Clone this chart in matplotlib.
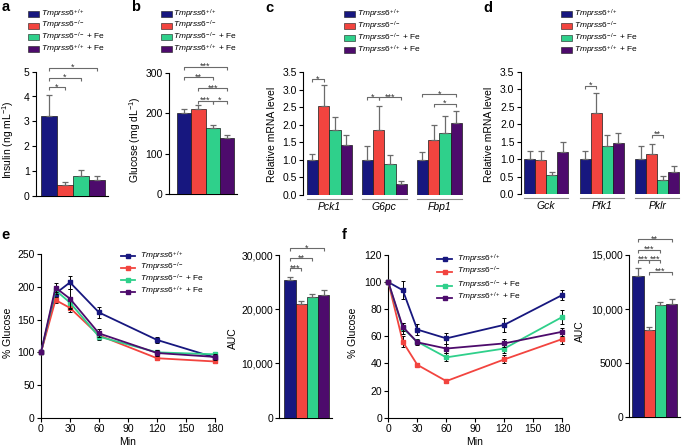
import matplotlib
matplotlib.use('Agg')
import matplotlib.pyplot as plt
from matplotlib.patches import Rectangle
from matplotlib.lines import Line2D
import numpy as np

plt.rcParams['font.family'] = ['Liberation Sans', 'DejaVu Sans']
plt.rcParams['mathtext.fontset'] = 'custom'
plt.rcParams['mathtext.rm'] = 'Liberation Sans'
plt.rcParams['mathtext.it'] = 'Liberation Sans:italic'
plt.rcParams['mathtext.bf'] = 'Liberation Sans:bold'
plt.rcParams['mathtext.sf'] = 'Liberation Sans'

# ---------------- data ----------------
group_labels = [r'$\mathit{Tmprss6}^{+/+}$', r'$\mathit{Tmprss6}^{-/-}$',
                r'$\mathit{Tmprss6}^{-/-}$ + Fe', r'$\mathit{Tmprss6}^{+/+}$ + Fe']
colors = ['#17177f', '#f2443f', '#2fd08b', '#4d0b6c']

insulin = [3.2, 0.42, 0.78, 0.62]
insulin_err = [0.87, 0.15, 0.25, 0.16]
insulin_sig = [(0, 1, 4.37, '*'), (0, 2, 4.76, '*'), (0, 3, 5.16, '*')]

glucose = [201, 211, 163, 138]
glucose_err = [10, 9, 8, 8]
glucose_sig = [(0, 3, 315, '***'), (0, 2, 289, '**'), (1, 3, 262, '***'),
               (1, 2, 231, '***'), (2, 3, 231, '*')]

gluconeo_genes = ['Pck1', 'G6pc', 'Fbp1']
gluconeo = [[1.0, 2.54, 1.86, 1.43], [1.0, 1.84, 0.87, 0.32], [1.0, 1.56, 1.76, 2.05]]
gluconeo_err = [[0.18, 0.58, 0.37, 0.28], [0.40, 0.68, 0.26, 0.08], [0.22, 0.44, 0.48, 0.35]]
gluconeo_sig = [(0, 0, 1, 3.29, '*'), (1, 0, 1, 2.78, '*'), (1, 1, 3, 2.78, '***'),
                (2, 0, 3, 2.87, '*'), (2, 1, 3, 2.59, '*')]

glyco_genes = ['Gck', 'Pfk1', 'Pklr']
glyco = [[1.0, 0.98, 0.54, 1.20], [1.0, 2.31, 1.39, 1.46], [1.0, 1.16, 0.40, 0.64]]
glyco_err = [[0.25, 0.25, 0.11, 0.28], [0.24, 0.57, 0.29, 0.30], [0.38, 0.27, 0.11, 0.16]]
glyco_sig = [(1, 0, 1, 3.10, '*'), (2, 1, 2, 1.70, '**')]

minutes = [0, 15, 30, 60, 120, 180]
gtt = [[100, 190, 207, 161, 119, 92],
       [100, 180, 168, 126, 91, 86],
       [100, 195, 176, 124, 100, 97],
       [100, 199, 182, 129, 99, 93]]
gtt_err = [[0, 5, 10, 8, 4, 6],
           [0, 5, 6, 5, 3, 3],
           [0, 5, 8, 5, 3, 4],
           [0, 7, 15, 6, 4, 5]]
gtt_auc = [25300, 21000, 22200, 22700]
gtt_auc_err = [600, 600, 700, 800]
gtt_auc_sig = [(0, 3, 31235, '*'), (0, 2, 29391, '**'), (0, 1, 27548, '***')]

itt = [[100, 94, 65, 58.5, 68.5, 90.5],
       [100, 56, 39, 27, 43, 58],
       [100, 66, 56, 44.5, 51, 74.3],
       [100, 67, 55.6, 51, 54.8, 63.4]]
itt_err = [[0, 6.5, 4, 4, 5, 4],
           [0, 4, 1, 1.5, 3, 4],
           [0, 4, 2, 3, 3, 5],
           [0, 3, 2, 3, 3, 3]]
itt_auc = [13100, 8050, 10350, 10500]
itt_auc_err = [700, 300, 350, 400]
itt_auc_sig = [(0, 3, 16451, '**'), (0, 2, 15462, '***'), (0, 1, 14538, '***'),
               (1, 2, 14538, '***'), (1, 3, 13457, '***')]

mrna_ticks = [0, 0.5, 1.0, 1.5, 2.0, 2.5, 3.0, 3.5]
mrna_ticklabels = ['0.0', '0.5', '1.0', '1.5', '2.0', '2.5', '3.0', '3.5']
auc_e_ticks = [0, 10000, 20000, 30000]
auc_e_ticklabels = ['0', '10,000', '20,000', '30,000']
auc_f_ticks = [0, 5000, 10000, 15000]
auc_f_ticklabels = ['0', '5000', '10,000', '15,000']

# ---------------- figure ----------------
W, H = 685, 448
fig = plt.figure(figsize=(6.85, 4.48), dpi=100)

TICK_FS = 7.5
LAB_FS = 7.5
LEG_FS = 6.0
ERR_C = '#6b6b6b'
BR_C = '#6b6b6b'


def make_ax(x0, x1, ytop, ybot):
    ax = fig.add_axes([x0 / W, 1 - ybot / H, (x1 - x0) / W, (ybot - ytop) / H])
    for s in ['top', 'right']:
        ax.spines[s].set_visible(False)
    for s in ['left', 'bottom']:
        ax.spines[s].set_linewidth(0.8)
    ax.tick_params(labelsize=TICK_FS, length=3, width=0.8, pad=1.5)
    ax.patch.set_alpha(0)
    return ax


def ftext(x, y, s, **kw):
    fig.text(x / W, 1 - y / H, s, **kw)


def bracket(ax, xi, xj, y, label, dpp):
    t = 3 * dpp
    ax.plot([xi, xi, xj, xj], [y - t, y, y, y - t], color=BR_C, lw=0.8,
            clip_on=False, solid_capstyle='butt')
    ax.annotate(label, xy=((xi + xj) / 2, y), xytext=(0, -1.6),
                textcoords='offset points', ha='center', va='baseline',
                fontsize=6.5, color='#333333', annotation_clip=False)


def bar_panel(x0, x1, ytop, ybot, bstart, bw, positions, vals, errs, cols,
              ylim, yticks, yticklabels=None, bottom=True):
    ax = make_ax(x0, x1, ytop, ybot)
    xlo = -0.5 - (bstart - x0) / bw
    xhi = xlo + (x1 - x0) / bw
    ax.bar(positions, vals, width=1, color=cols, edgecolor='#1a1a1a', linewidth=0.5,
           yerr=[np.zeros(len(vals)), errs],
           error_kw=dict(ecolor=ERR_C, elinewidth=0.9, capsize=2.5, capthick=0.9),
           zorder=3)
    ax.set_xlim(xlo, xhi)
    ax.set_ylim(*ylim)
    ax.set_yticks(yticks)
    if yticklabels is not None:
        ax.set_yticklabels(yticklabels)
    ax.spines['bottom'].set_visible(bottom)
    ax.tick_params(axis='x', length=0, labelbottom=False)
    dpp = (ylim[1] - ylim[0]) / (ybot - ytop)
    return ax, dpp


def bar_legend(px, tx, ys):
    for c, lab, y in zip(colors, group_labels, ys):
        fig.patches.append(Rectangle((px / W, 1 - (y + 3) / H), 11 / W, 6 / H,
                                     transform=fig.transFigure, facecolor=c,
                                     edgecolor='#1a1a1a', linewidth=0.4, figure=fig))
        ftext(tx, y, lab, fontsize=LEG_FS, va='center', ha='left')


def line_legend(lx0, lx1, tx, ys):
    for c, lab, y in zip(colors, group_labels, ys):
        fig.add_artist(Line2D([lx0 / W, lx1 / W], [1 - y / H, 1 - y / H],
                              transform=fig.transFigure, color=c, lw=1.3))
        fig.add_artist(Line2D([(lx0 + lx1) / 2 / W], [1 - y / H], transform=fig.transFigure,
                              color=c, marker='s', ms=2.2, lw=0))
        ftext(tx, y, lab, fontsize=LEG_FS, va='center', ha='left')


# ---- panel a ----
ax, dpp = bar_panel(36, 108, 71.7, 195.7, 41, 16, range(4), insulin, insulin_err, colors,
                    (0, 5), [0, 1, 2, 3, 4, 5])
for i, j, y, s in insulin_sig:
    bracket(ax, i, j, y, s, dpp)
ftext(8, 140, r'Insulin (ng mL$^{-1}$)', rotation=90, fontsize=LAB_FS, ha='center', va='center')
bar_legend(28, 41, [14, 25.7, 37.3, 49.3])

# ---- panel b ----
ax, dpp = bar_panel(169, 237, 72.7, 194.3, 177, 14.25, range(4), glucose, glucose_err, colors,
                    (0, 300), [0, 100, 200, 300])
for i, j, y, s in glucose_sig:
    bracket(ax, i, j, y, s, dpp)
ftext(135, 140, r'Glucose (mg dL$^{-1}$)', rotation=90, fontsize=LAB_FS, ha='center', va='center')
bar_legend(160.5, 173, [14, 25.7, 37.3, 49.3])


# ---- panels c, d ----
def gene_panel(x0, x1, ytop, ybot, bstart, bw, gap, genes, vals, errs, sigs, ylab_x):
    pos = [g * gap + i for g in range(len(genes)) for i in range(4)]
    flat_v = [v for row in vals for v in row]
    flat_e = [v for row in errs for v in row]
    ax, dpp = bar_panel(x0, x1, ytop, ybot, bstart, bw, pos, flat_v, flat_e, colors * len(genes),
                        (0, 3.5), mrna_ticks, mrna_ticklabels, bottom=False)
    for g in range(len(genes)):
        ax.plot([g * gap - 0.5, g * gap + 3.5], [-4 * dpp] * 2, color='#8a8a8a', lw=0.8,
                clip_on=False)
    ax.set_xticks([g * gap + 1.5 for g in range(len(genes))])
    ax.set_xticklabels(genes, fontstyle='italic', fontsize=TICK_FS)
    ax.tick_params(axis='x', length=0, labelbottom=True, pad=5)
    for g, i, j, y, s in sigs:
        bracket(ax, g * gap + i, g * gap + j, y, s, dpp)
    ftext(ylab_x, 134, 'Relative mRNA level', rotation=90, fontsize=LAB_FS,
          ha='center', va='center')
    return ax


gene_panel(303, 466, 72, 195, 306.7, 11.3, 4.87, gluconeo_genes, gluconeo, gluconeo_err,
           gluconeo_sig, 272)
bar_legend(344, 357, [14, 26, 38, 50])
gene_panel(520.7, 683, 71.7, 194.3, 524, 11.1, 5.0, glyco_genes, glyco, glyco_err,
           glyco_sig, 489)
bar_legend(560.5, 573.5, [14, 26, 38, 50])


# ---- line panels ----
def line_panel(x0, x1, ytop, ybot, data, errs, ylim, yticks, ylab_x, min_x):
    ax = make_ax(x0, x1, ytop, ybot)
    order = [1, 2, 3, 0]
    for k in order:
        ax.errorbar(minutes, data[k], yerr=errs[k], color=colors[k], lw=1.3, marker='s', ms=2.2,
                    ecolor='black', elinewidth=0.7, capsize=1.6, capthick=0.7,
                    errorevery=(1, 1), clip_on=False, zorder=3 + k)
    ax.set_xlim(0, 180)
    ax.set_ylim(*ylim)
    ax.set_xticks([0, 30, 60, 90, 120, 150, 180])
    ax.set_yticks(yticks)
    ftext(ylab_x, 333, '% Glucose', rotation=90, fontsize=LAB_FS, ha='center', va='center')
    ftext(min_x, 442, 'Min', fontsize=LAB_FS, ha='center', va='center')
    return ax


line_panel(41, 215, 254.3, 417.7, gtt, gtt_err, (0, 250), [0, 50, 100, 150, 200, 250], 8, 128)
line_legend(121.5, 135, 140.5, [256, 267.5, 279.5, 291.5])
line_panel(388.3, 562.3, 255, 417.7, itt, itt_err, (0, 120), [0, 20, 40, 60, 80, 100, 120],
           353, 475)
line_legend(437.3, 451.7, 457, [259, 271.7, 285.5, 297.7])

# ---- AUC panels ----
ax, dpp = bar_panel(279.3, 332, 255, 417.7, 284.3, 11.2, range(4), gtt_auc, gtt_auc_err, colors,
                    (0, 30000), auc_e_ticks, auc_e_ticklabels)
for i, j, y, s in gtt_auc_sig:
    bracket(ax, i, j, y, s, dpp)
ftext(233, 338, 'AUC', rotation=90, fontsize=LAB_FS, ha='center', va='center')

ax, dpp = bar_panel(629.3, 680, 255, 417.3, 632.3, 11.25, range(4), itt_auc, itt_auc_err, colors,
                    (0, 15000), auc_f_ticks, auc_f_ticklabels)
for i, j, y, s in itt_auc_sig:
    bracket(ax, i, j, y, s, dpp)
ftext(580, 331, 'AUC', rotation=90, fontsize=LAB_FS, ha='center', va='center')

# ---- panel letters ----
for letter, x, y in [('a', 2, 11), ('b', 131, 11), ('c', 265, 12), ('d', 483, 12),
                     ('e', 1, 239), ('f', 342, 239)]:
    ftext(x, y, letter, fontsize=10.5, fontweight='bold', ha='left', va='baseline')

fig.savefig('out.png', dpi=100)
